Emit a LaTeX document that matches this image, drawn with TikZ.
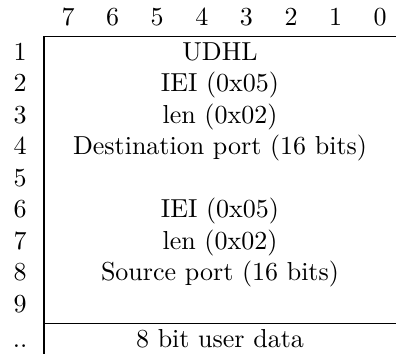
\documentclass[tikz,border=0pt]{standalone}
\begin{document}
\begin{tikzpicture}[x=0.3846pt,y=-0.3846pt,
  cell/.style={anchor=base,inner sep=0pt,font=\normalsize},
  rule/.style={line width=0.75pt}]
\useasboundingbox (0,0) rectangle (396,354);
% bit numbers across the top
\foreach \b [count=\i from 0] in {7,6,5,4,3,2,1,0}
  \node[cell] (bit\b) at ({68+\i*44.6},25.5) {\b};
% octet numbers and field contents
\foreach \r/\txt in {1/UDHL,2/IEI (0x05),3/len (0x02),4/Destination port (16 bits),5/,6/IEI (0x05),7/len (0x02),8/Source port (16 bits),9/} {
  \node[cell] (row\r) at (20,{60+(\r-1)*31.5}) {\r};
  \node[cell] (field\r) at (220,{60+(\r-1)*31.5}) {\txt};
}
\node[cell] (rowdots) at (20,347.5) {..};
\node[cell] (data) at (220,347.5) {8 bit user data};
% frame rules
\coordinate (tl) at (43.7,36.5);
\coordinate (tr) at (396,36.5);
\coordinate (bl) at (43.7,354);
\coordinate (ml) at (43.7,323.5);
\coordinate (mr) at (396,323.5);
\draw[rule] (tr) -- (tl) -- (bl);
\draw[rule] (ml) -- (mr);
\end{tikzpicture}
\end{document}
